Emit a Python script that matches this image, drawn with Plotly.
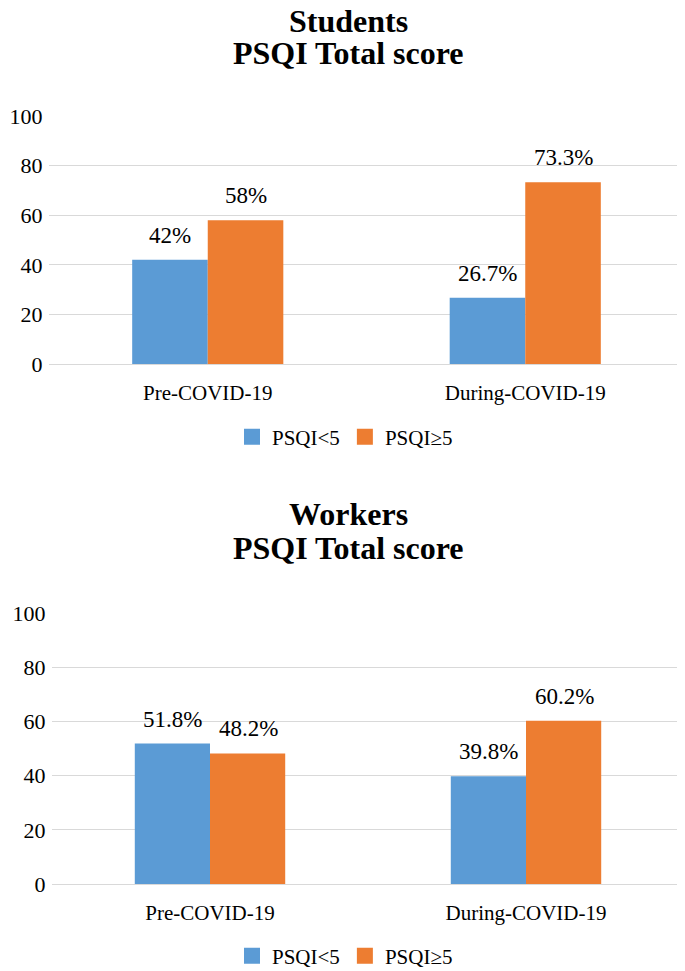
import plotly.graph_objects as go

categories = ["Pre-COVID-19", "During-COVID-19"]
series_names = ["PSQI<5", "PSQI≥5"]
students_lt5 = [42, 26.7]
students_ge5 = [58, 73.3]
workers_lt5 = [51.8, 39.8]
workers_ge5 = [48.2, 60.2]
y_ticks = [0, 20, 40, 60, 80, 100]
titles = [("Students", "PSQI Total score"), ("Workers", "PSQI Total score")]

colors = ["#5B9BD5", "#ED7D31"]
FONT = "Liberation Serif"
# page body has an 8px margin, so the figure is drawn 8px in from the top-left
OFF = 8
W, H = 685 - OFF, 971 - OFF


def px_x(p):
    return (p - OFF) / W


def px_y(p):
    return 1 - (p - OFF) / H


fig = go.Figure()

panels = [
    (students_lt5, students_ge5, "x", "y", "legend"),
    (workers_lt5, workers_ge5, "x2", "y2", "legend2"),
]

annotations = []
for (lt5, ge5, xa, ya, lg) in panels:
    for i, (vals, name) in enumerate(zip([lt5, ge5], series_names)):
        fig.add_trace(go.Bar(
            x=categories, y=vals, name=name, xaxis=xa, yaxis=ya,
            marker=dict(color=colors[i], line=dict(width=0)),
            showlegend=False, hoverinfo="x+y+name",
        ))
        for c, v in zip(categories, vals):
            annotations.append(dict(
                x=c, y=v, xref=xa, yref=ya, text=f"{v:g}%",
                showarrow=False, xanchor="center", yanchor="bottom",
                xshift=-38 if i == 0 else 38, yshift=10,
                font=dict(family=FONT, size=23, color="#000"),
            ))
    # legend entries (square swatches)
    for i, name in enumerate(series_names):
        fig.add_trace(go.Scatter(
            x=[None], y=[None], mode="markers", name=name, xaxis=xa, yaxis=ya,
            marker=dict(symbol="square", size=17, color=colors[i]),
            legend=lg, showlegend=True, hoverinfo="skip",
        ))

# titles
title_pos = [(21, 53), (514, 548)]
for (t1, t2), (y1, y2) in zip(titles, title_pos):
    for t, yy in ((t1, y1), (t2, y2)):
        annotations.append(dict(
            x=px_x(348), y=px_y(yy), xref="paper", yref="paper", text=f"<b>{t}</b>",
            showarrow=False, xanchor="center", yanchor="middle",
            font=dict(family=FONT, size=32, color="#000"),
        ))

axis_common_y = dict(
    range=[0, 100], tickvals=y_ticks, showgrid=True, gridcolor="#D9D9D9", gridwidth=1,
    zeroline=True, zerolinecolor="#D9D9D9", zerolinewidth=1, showline=False,
    ticks="outside", ticklen=1, tickcolor="rgba(0,0,0,0)",
    tickfont=dict(family=FONT, size=22, color="#000"), fixedrange=True,
)
axis_common_x = dict(
    showgrid=False, zeroline=False, showline=False,
    ticks="outside", ticklen=10, tickcolor="rgba(0,0,0,0)",
    tickfont=dict(family=FONT, size=21, color="#000"), fixedrange=True,
)

legend_common = dict(
    orientation="h", xanchor="center", yanchor="middle",
    font=dict(family=FONT, size=21, color="#000"), bgcolor="rgba(0,0,0,0)",
    itemwidth=30, tracegroupgap=0,
)

fig.update_layout(
    width=W, height=H, autosize=False,
    margin=dict(l=0, r=0, t=0, b=0, pad=0, autoexpand=False),
    paper_bgcolor="white", plot_bgcolor="white",
    barmode="group", bargap=0.524, bargroupgap=0,
    font=dict(family=FONT, color="#000"),
    xaxis=dict(domain=[px_x(49), px_x(684)], anchor="y", **axis_common_x),
    yaxis=dict(domain=[px_y(364), px_y(116)], anchor="x", **axis_common_y),
    xaxis2=dict(domain=[px_x(52), px_x(684)], anchor="y2", **axis_common_x),
    yaxis2=dict(domain=[px_y(884), px_y(613)], anchor="x2", **axis_common_y),
    legend=dict(x=px_x(345), y=px_y(437), **legend_common),
    legend2=dict(x=px_x(345), y=px_y(956), **legend_common),
    annotations=annotations,
)

fig.write_html("out.html")
